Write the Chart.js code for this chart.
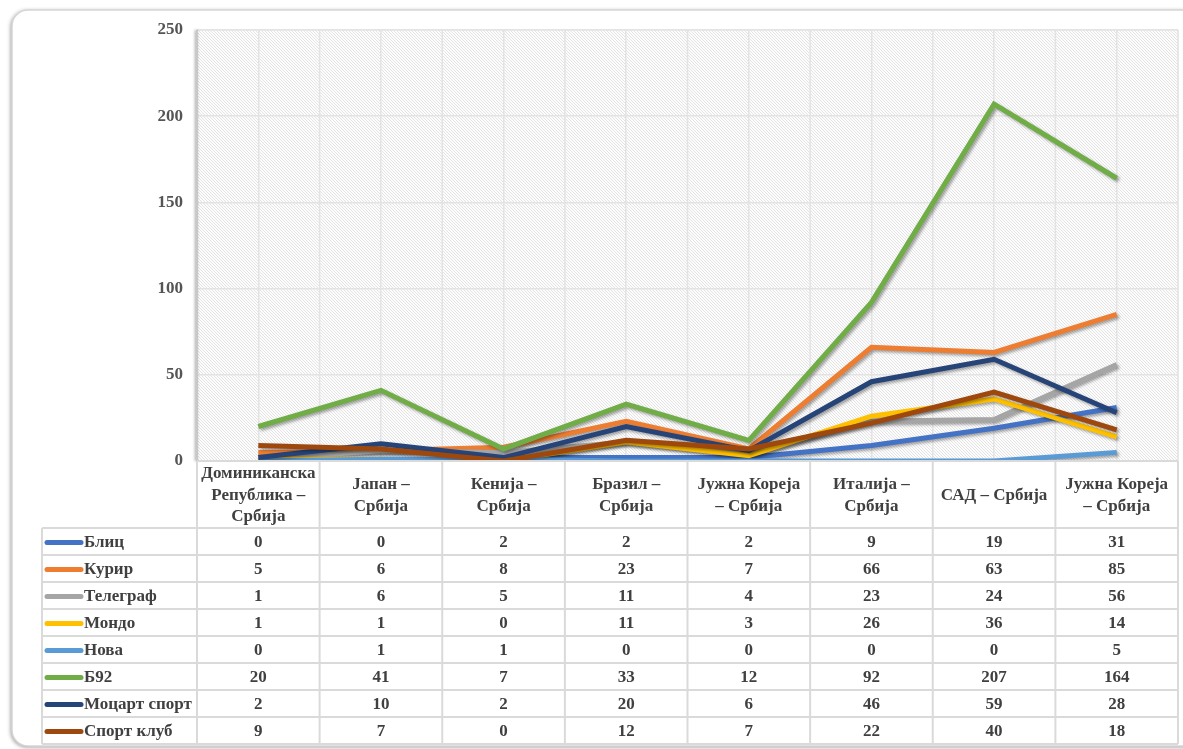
<!DOCTYPE html>
<html lang="sr">
<head>
  <meta charset="UTF-8" />
  <title>Б92, Курир, Блиц...</title>
  <script src="https://cdn.jsdelivr.net/npm/chart.js"></script>
  <style>
    body {
      margin: 0;
      background: #fff;
    }
    canvas {
      display: block;
    }
  </style>
</head>
<body>
  <canvas id="lineChart" width="1183" height="749"></canvas>

  <script>
    // категорије (утакмице), свака као низ редова
    const categories = [
      ["Доминиканска", "Република –", "Србија"],
      ["Јапан –", "Србија"],
      ["Кенија –", "Србија"],
      ["Бразил –", "Србија"],
      ["Јужна Кореја", "– Србија"],
      ["Италија –", "Србија"],
      ["САД – Србија"],
      ["Јужна Кореја", "– Србија"]
    ];

    const seriesNames = ["Блиц", "Курир", "Телеграф", "Мондо", "Нова", "Б92", "Моцарт спорт", "Спорт клуб"];
    const seriesColors = ["#4472C4", "#ED7D31", "#A5A5A5", "#FFC000", "#5B9BD5", "#70AD47", "#264478", "#9E480E"];

    const blic = [0, 0, 2, 2, 2, 9, 19, 31];
    const kurir = [5, 6, 8, 23, 7, 66, 63, 85];
    const telegraf = [1, 6, 5, 11, 4, 23, 24, 56];
    const mondo = [1, 1, 0, 11, 3, 26, 36, 14];
    const nova = [0, 1, 1, 0, 0, 0, 0, 5];
    const b92 = [20, 41, 7, 33, 12, 92, 207, 164];
    const mocart = [2, 10, 2, 20, 6, 46, 59, 28];
    const sportKlub = [9, 7, 0, 12, 7, 22, 40, 18];

    const seriesValues = [blic, kurir, telegraf, mondo, nova, b92, mocart, sportKlub];
    const yTicks = [0, 50, 100, 150, 200, 250];

    const serif = '"Liberation Serif", "Times New Roman", serif';
    const textColor = "#404040";
    const lineGrey = "#dadada";

    // шрафура за позадину
    function makeHatch() {
      const c = document.createElement("canvas");
      c.width = 3;
      c.height = 3;
      const g = c.getContext("2d");
      g.fillStyle = "#fcfcfc";
      g.fillRect(0, 0, 3, 3);
      g.strokeStyle = "#e4e4e4";
      g.lineWidth = 1;
      g.beginPath();
      for (const k of [-3, 0, 3]) {
        g.moveTo(k, 0);
        g.lineTo(k + 3, 3);
      }
      g.stroke();
      return c;
    }

    const decorPlugin = {
      id: "decor",
      beforeDraw(chart) {
        const { ctx, chartArea: a } = chart;
        // картица
        ctx.save();
        ctx.shadowColor = "rgba(0,0,0,0.45)";
        ctx.shadowBlur = 4;
        ctx.shadowOffsetX = -1;
        ctx.shadowOffsetY = 1;
        ctx.beginPath();
        ctx.roundRect(12, 10, 1200, 736, 16);
        ctx.fillStyle = "#fff";
        ctx.fill();
        ctx.restore();
        ctx.save();
        ctx.strokeStyle = "#d6d6d6";
        ctx.lineWidth = 1.5;
        ctx.beginPath();
        ctx.roundRect(12, 10, 1200, 736, 16);
        ctx.stroke();
        ctx.restore();

        ctx.save();
        ctx.fillStyle = ctx.createPattern(makeHatch(), "repeat");
        ctx.fillRect(a.left, a.top, a.right - a.left, a.bottom - a.top);
        ctx.strokeStyle = "#e6e6e6";
        ctx.lineWidth = 1;
        ctx.strokeRect(a.left, a.top, a.right - a.left, a.bottom - a.top);
        ctx.restore();
      },
      beforeDatasetsDraw(chart) {
        const { ctx, chartArea: a, scales: { x } } = chart;
        const half = (x.getPixelForValue(1) - x.getPixelForValue(0)) / 2;
        ctx.save();
        ctx.strokeStyle = "#e3e3e3";
        ctx.lineWidth = 1.5;
        for (let i = 0; i <= categories.length; i++) {
          const px = x.getPixelForValue(i) - half;
          ctx.beginPath();
          ctx.moveTo(px, a.top);
          ctx.lineTo(px, a.bottom);
          ctx.stroke();
        }
        // лева ивица са сенком
        ctx.shadowColor = "rgba(0,0,0,0.4)";
        ctx.shadowBlur = 3;
        ctx.shadowOffsetX = -1;
        ctx.strokeStyle = "#c8c8c8";
        ctx.lineWidth = 2;
        ctx.beginPath();
        ctx.moveTo(a.left, a.top);
        ctx.lineTo(a.left, a.bottom);
        ctx.stroke();
        ctx.restore();
      },
      beforeDatasetDraw(chart) {
        const ctx = chart.ctx;
        ctx.save();
        ctx.shadowColor = "rgba(0,0,0,0.35)";
        ctx.shadowBlur = 3;
        ctx.shadowOffsetX = 2;
        ctx.shadowOffsetY = 2;
      },
      afterDatasetDraw(chart) {
        chart.ctx.restore();
      },
      afterDraw(chart) {
        const { ctx, chartArea: a, scales: { x } } = chart;
        const half = (x.getPixelForValue(1) - x.getPixelForValue(0)) / 2;
        const headTop = a.bottom;
        const rowTop = 528;
        const rowH = 27;
        const tableLeft = 42;
        const tableBottom = rowTop + rowH * seriesNames.length;

        ctx.save();
        ctx.strokeStyle = lineGrey;
        ctx.lineWidth = 2;
        // хоризонталне линије
        ctx.beginPath();
        ctx.moveTo(a.left, headTop);
        ctx.lineTo(a.right, headTop);
        for (let r = 0; r <= seriesNames.length; r++) {
          ctx.moveTo(tableLeft, rowTop + r * rowH);
          ctx.lineTo(a.right, rowTop + r * rowH);
        }
        // вертикалне линије
        for (let i = 0; i <= categories.length; i++) {
          const px = x.getPixelForValue(i) - half;
          ctx.moveTo(px, headTop);
          ctx.lineTo(px, tableBottom);
        }
        ctx.moveTo(tableLeft, rowTop);
        ctx.lineTo(tableLeft, tableBottom);
        ctx.stroke();

        ctx.fillStyle = textColor;
        ctx.font = "bold 17px " + serif;
        ctx.textAlign = "center";
        ctx.textBaseline = "middle";
        const headMid = (headTop + rowTop) / 2 + 1;
        categories.forEach((lines, i) => {
          const cx = x.getPixelForValue(i);
          const lh = 21.5;
          lines.forEach((t, k) => {
            ctx.fillText(t, cx, headMid + (k - (lines.length - 1) / 2) * lh);
          });
        });

        seriesNames.forEach((name, r) => {
          const cy = rowTop + r * rowH + rowH / 2 + 1;
          ctx.save();
          ctx.strokeStyle = seriesColors[r];
          ctx.lineWidth = 5;
          ctx.lineCap = "round";
          ctx.beginPath();
          ctx.moveTo(47, cy);
          ctx.lineTo(81, cy);
          ctx.stroke();
          ctx.restore();
          ctx.textAlign = "left";
          ctx.fillText(name, 84, cy);
          ctx.textAlign = "center";
          seriesValues[r].forEach((v, i) => {
            ctx.fillText(String(v), x.getPixelForValue(i), cy);
          });
        });
        ctx.restore();
      }
    };

    const datasets = seriesNames.map((name, i) => ({
      label: name,
      data: seriesValues[i],
      borderColor: seriesColors[i],
      backgroundColor: seriesColors[i],
      borderWidth: 5,
      borderCapStyle: "butt",
      borderJoinStyle: "miter",
      pointRadius: 0,
      tension: 0,
      order: seriesNames.length - i
    }));

    const ctx = document.getElementById("lineChart").getContext("2d");
    new Chart(ctx, {
      type: "line",
      data: {
        labels: categories,
        datasets: datasets
      },
      options: {
        responsive: false,
        animation: false,
        layout: {
          padding: { top: 30, right: 5, bottom: 288, left: 0 }
        },
        plugins: {
          legend: { display: false },
          tooltip: { enabled: false }
        },
        scales: {
          x: {
            offset: true,
            grid: {
              color: "#e3e3e3",
              lineWidth: 1.5,
              drawTicks: false
            },
            border: { display: false },
            ticks: { display: false },
            afterFit: (scale) => {
              scale.height = 0;
            }
          },
          y: {
            min: 0,
            max: 250,
            afterBuildTicks: (scale) => {
              scale.ticks = yTicks.map(v => ({ value: v }));
            },
            grid: {
              color: "#e3e3e3",
              lineWidth: 1.5,
              drawTicks: false
            },
            border: { display: false },
            ticks: {
              padding: 14,
              color: "#555555",
              font: { family: serif, size: 17, weight: "bold" }
            },
            afterFit: (scale) => {
              scale.width = 197;
            }
          }
        }
      },
      plugins: [decorPlugin]
    });
  </script>
</body>
</html>
